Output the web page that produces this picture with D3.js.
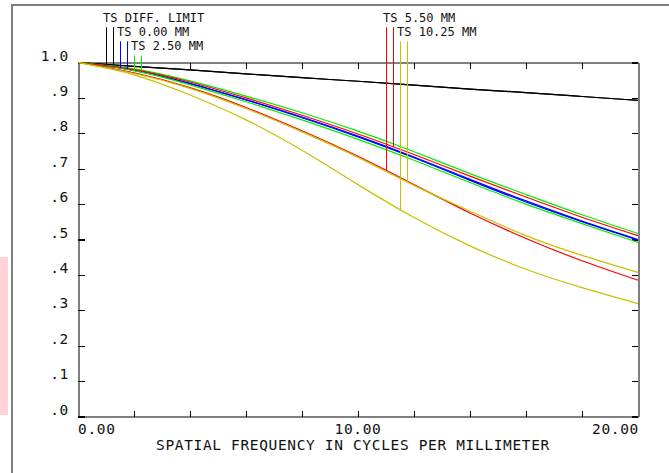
<!DOCTYPE html>
<html>
<head>
<meta charset="utf-8">
<script src="https://cdn.jsdelivr.net/npm/d3@7"></script>
<style>
  body { margin: 0; background: #fff; }
  svg { display: block; }
</style>
</head>
<body>
<script>
// MTF plot, tangential/sagittal per field, Zemax style

// ---- data ----
const freq = [0, 2, 4, 6, 8, 10, 12, 14, 16, 18, 20]

const diffT  = [1.000, 0.989, 0.979, 0.968, 0.957, 0.947, 0.936, 0.925, 0.915, 0.904, 0.893]
const diffS  = [1.000, 0.989, 0.979, 0.968, 0.957, 0.947, 0.936, 0.925, 0.915, 0.904, 0.893]
const f000T  = [1.000, 0.978, 0.940, 0.894, 0.844, 0.790, 0.731, 0.667, 0.606, 0.550, 0.498]
const f000S  = [1.000, 0.978, 0.941, 0.895, 0.846, 0.792, 0.733, 0.670, 0.609, 0.552, 0.500]
const f250T  = [1.000, 0.977, 0.937, 0.889, 0.838, 0.783, 0.724, 0.661, 0.600, 0.545, 0.492]
const f250S  = [1.000, 0.982, 0.948, 0.905, 0.858, 0.806, 0.748, 0.686, 0.627, 0.570, 0.517]
const f550T  = [1.000, 0.971, 0.929, 0.873, 0.807, 0.735, 0.655, 0.575, 0.503, 0.440, 0.385]
const f550S  = [1.000, 0.980, 0.945, 0.900, 0.851, 0.798, 0.740, 0.679, 0.620, 0.563, 0.511]
const f1025T = [1.000, 0.965, 0.908, 0.838, 0.752, 0.655, 0.562, 0.482, 0.416, 0.364, 0.319]
const f1025S = [1.000, 0.969, 0.927, 0.870, 0.804, 0.732, 0.653, 0.580, 0.511, 0.455, 0.407]

const legendLabels = ["TS DIFF. LIMIT", "TS 0.00 MM", "TS 2.50 MM", "TS 5.50 MM", "TS 10.25 MM"]
const legendColors = ["#000000", "#0000ff", "#00ee00", "#ff0000", "#c8c000"]
const legendFreq   = [1.0, 1.5, 2.0, 11.0, 11.5]   // where the T marker drops onto its curve
const legendRow    = [0, 1, 2, 0, 1]
const fieldSeries  = [[diffT, diffS], [f000T, f000S], [f250T, f250S], [f550T, f550S], [f1025T, f1025S]]

const xTicks = [0, 2, 4, 6, 8, 10, 12, 14, 16, 18, 20]
const xLabelVals = [0, 10, 20]
const xLabels = ["0.00", "10.00", "20.00"]
const yTicks = [0, 0.1, 0.2, 0.3, 0.4, 0.5, 0.6, 0.7, 0.8, 0.9, 1.0]
const yLabels = [".0", ".1", ".2", ".3", ".4", ".5", ".6", ".7", ".8", ".9", "1.0"]

// ---- setup ----
const W = 669, H = 473
const FONT = "'DejaVu Sans Mono', 'Liberation Mono', monospace"

const svg = d3.select("body").append("svg")
  .attr("width", W)
  .attr("height", H)

const x = d3.scaleLinear().domain([0, 20]).range([78, 638])
const y = d3.scaleLinear().domain([0, 1]).range([416.5, 62.5])

// pinkish smudge on the left edge of the screenshot
svg.append("rect")
  .attr("x", 0).attr("y", 257).attr("width", 8).attr("height", 158)
  .attr("fill", "#ffd3d3")

// outer window frame (top + left only visible)
svg.append("path")
  .attr("d", `M12,${H} L12,5 L${W},5`)
  .attr("fill", "none")
  .attr("stroke", "#7f7f7f")
  .attr("stroke-width", 2)

// ---- axes (ticks point inward) ----
function styleAxis(g) {
  g.select(".domain").attr("stroke", "#808080").attr("stroke-width", 2)
  g.selectAll(".tick line").attr("stroke", "#000").attr("stroke-width", 1.3)
  g.attr("shape-rendering", "crispEdges")
}

svg.append("g")
  .attr("transform", `translate(0,${y(0)})`)
  .call(d3.axisBottom(x).tickValues(xTicks).tickSize(-6).tickSizeOuter(0).tickFormat(""))
  .call(styleAxis)

svg.append("g")
  .attr("transform", `translate(0,${y(1)})`)
  .call(d3.axisTop(x).tickValues(xTicks).tickSize(-6).tickSizeOuter(0).tickFormat(""))
  .call(styleAxis)

svg.append("g")
  .attr("transform", `translate(${x(0)},0)`)
  .call(d3.axisLeft(y).tickValues(yTicks).tickSize(-7).tickSizeOuter(0).tickFormat(""))
  .call(styleAxis)

svg.append("g")
  .attr("transform", `translate(${x(20)},0)`)
  .call(d3.axisRight(y).tickValues(yTicks).tickSize(-6).tickSizeOuter(0).tickFormat(""))
  .call(styleAxis)

// ---- tick labels ----
const axisText = {
  "font-family": FONT,
  "font-size": "14.5px",
  "letter-spacing": "0.65px",
  "fill": "#111"
}
function applyAttrs(sel, attrs) {
  Object.entries(attrs).forEach(([k, v]) => sel.attr(k, v))
  return sel
}

yTicks.forEach((v, i) => {
  applyAttrs(svg.append("text"), axisText)
    .attr("x", 69)
    .attr("y", y(v) - 2)
    .attr("text-anchor", "end")
    .text(yLabels[i])
})

xLabelVals.forEach((v, i) => {
  const anchor = i === 0 ? "start" : (i === xLabelVals.length - 1 ? "end" : "middle")
  applyAttrs(svg.append("text"), axisText)
    .attr("x", x(v) + (anchor === "end" ? 1 : 0))
    .attr("y", 434)
    .attr("text-anchor", anchor)
    .text(xLabels[i])
})

applyAttrs(svg.append("text"), axisText)
  .attr("x", x(10) - 5)
  .attr("y", 450)
  .attr("text-anchor", "middle")
  .text("SPATIAL FREQUENCY IN CYCLES PER MILLIMETER")

// ---- curves ----
const line = d3.line()
  .x((d, i) => x(freq[i]))
  .y(d => y(d))
  .curve(d3.curveNatural)

const curveNodes = []
fieldSeries.forEach((pair, k) => {
  curveNodes[k] = pair.map(vals =>
    svg.append("path")
      .datum(vals)
      .attr("d", line)
      .attr("fill", "none")
      .attr("stroke", legendColors[k])
      .attr("stroke-width", 1.2)
      .node()
  )
})

// find y of a drawn path at a given screen x
function yOnPath(node, px) {
  const total = node.getTotalLength()
  let lo = 0, hi = total
  for (let n = 0; n < 40; n++) {
    const mid = (lo + hi) / 2
    if (node.getPointAtLength(mid).x < px) lo = mid
    else hi = mid
  }
  return node.getPointAtLength((lo + hi) / 2).y
}

// ---- legend: labels with marker lines dropping onto the curves ----
const rowBase = [21.7, 35.9, 50.1]

legendLabels.forEach((label, k) => {
  const x0 = x(legendFreq[k])
  const base = rowBase[legendRow[k]]

  svg.append("text")
    .attr("x", x0 - 3)
    .attr("y", base)
    .attr("font-family", FONT)
    .attr("font-size", "12px")
    .attr("fill", "#111")
    .text(label)

  curveNodes[k].forEach((node, j) => {
    const px = Math.round(x(legendFreq[k] + 0.25 * j)) + 0.5
    svg.append("line")
      .attr("x1", px).attr("x2", px)
      .attr("y1", base + 5.5)
      .attr("y2", yOnPath(node, px))
      .attr("stroke", legendColors[k])
      .attr("stroke-width", 1)
  })
})
</script>
</body>
</html>
